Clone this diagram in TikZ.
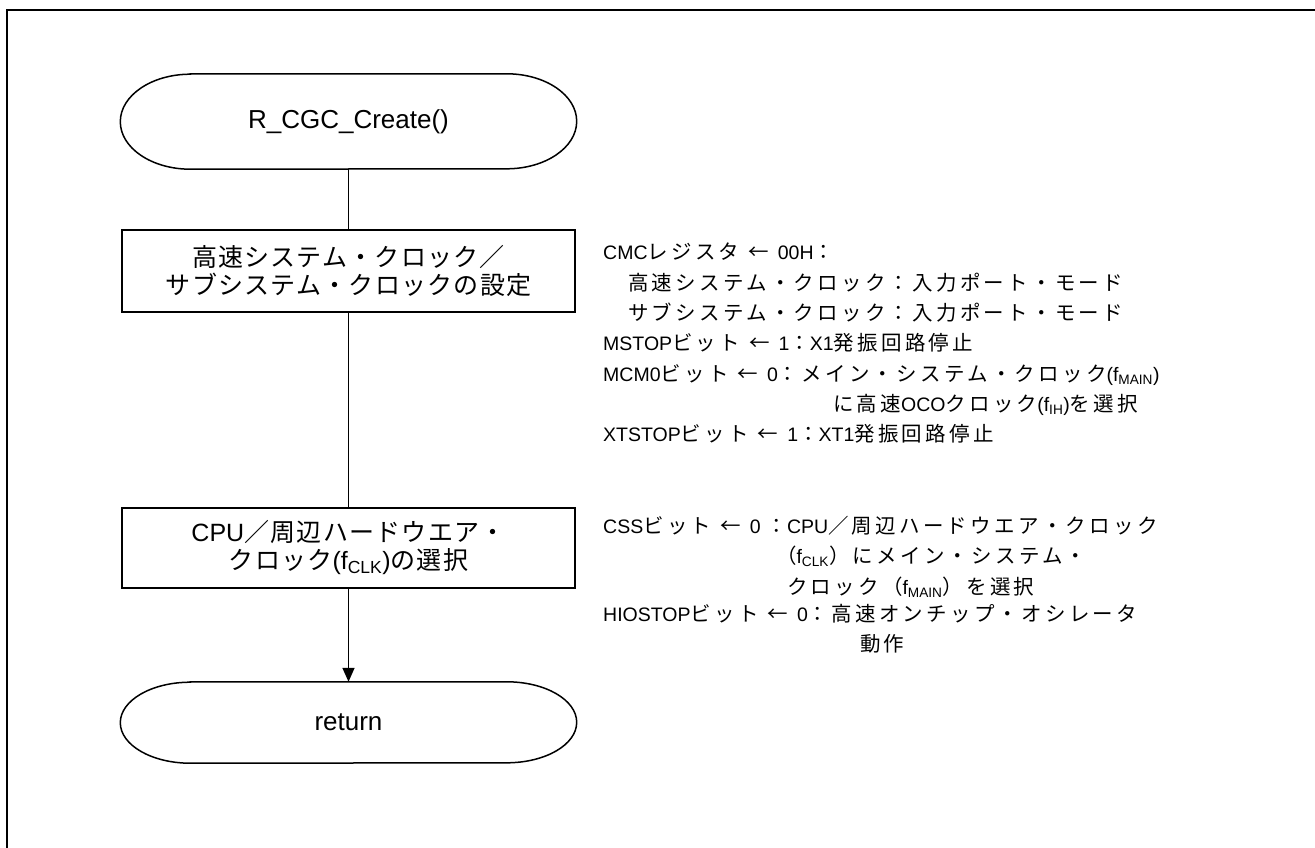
\documentclass[tikz,border=0pt]{standalone}
\usepackage{fontspec}
\setmainfont{Liberation Sans}
\newfontfamily\lafont{Liberation Sans}
\newfontfamily\jpfont[LetterSpace=5]{Noto Sans CJK JP}
\newfontfamily\jpwide[Scale=1.05,LetterSpace=16]{Noto Sans CJK JP}
\usetikzlibrary{arrows.meta}

% Japanese characters switch to the CJK font on their own
\XeTeXinterchartokenstate=1
\newXeTeXintercharclass\jpclass
\newcount\jpc
\newcommand\jprange[2]{\jpc=#1 \loop\XeTeXcharclass\jpc=\jpclass\ifnum\jpc<#2 \advance\jpc by 1 \repeat}
\jprange{"2190}{"2190}
\jprange{"3000}{"30FF}
\jprange{"4E00}{"9FFF}
\jprange{"FF00}{"FFEF}
\newcommand\jpsel{\jpfont}
\XeTeXinterchartoks 0 \jpclass = {\jpsel}
\XeTeXinterchartoks 4095 \jpclass = {\jpsel}
\XeTeXinterchartoks \jpclass 0 = {\lafont}
\XeTeXinterchartoks \jpclass 4095 = {\lafont}
\newcommand\setto{\hspace{9pt}←\hspace{9pt}}

% terminal outline round a node
\newcommand\terminal[2]{\draw[line width=1.5pt] ([xshift=70pt]#1.north west) -- ([xshift=-70pt]#1.north east)
  arc[start angle=90,end angle=-90,x radius=70pt,y radius=#2] -- ([xshift=70pt]#1.south west)
  arc[start angle=270,end angle=90,x radius=70pt,y radius=#2] -- cycle;}

\begin{document}
\begin{tikzpicture}[x=1pt,y=-1pt,
  every node/.style={inner sep=0pt},
  termnode/.style={minimum width=456pt,font=\fontsize{26}{30}\selectfont},
  stepbox/.style={draw,line width=1.5pt,minimum width=453pt,align=center,font=\fontsize{25}{28}\selectfont},
  note/.style={anchor=north west,align=left,font=\let\jpsel\jpwide\fontsize{19.5}{30.3}\selectfont},
  flow/.style={line width=1.5pt}]
\useasboundingbox (0,0) rectangle (1315,848);
% Frame
\draw[line width=2pt] (7,860) -- (7,10) -- (1330,10);

% Flow
\node[termnode,minimum height=95pt] (start) at (348.5,121.5) {R\_CGC\_Create()};
\terminal{start}{47.5pt}
\node[stepbox,minimum height=82pt] (clk) at (348.5,271) {高速システム・クロック／\\サブシステム・クロックの設定};
\node[stepbox,minimum height=80pt] (cpu) at (348.5,548) {CPU／周辺ハードウエア・\\クロック(f\textsubscript{CLK})の選択};
\node[termnode,minimum height=81pt] (ret) at (348.5,722.5) {return};
\terminal{ret}{40.5pt}

\draw[flow] (start) -- (clk);
\draw[flow] (clk) -- (cpu);
\draw[flow,-{Triangle[length=14pt,width=12pt]}] (cpu) -- (ret);

% Register notes
\node[note] (clknote) at (603,243) {CMCレジスタ\setto 00H：\\
\hspace*{25pt}高速システム・クロック：入力ポート・モード\\
\hspace*{25pt}サブシステム・クロック：入力ポート・モード\\
MSTOPビット\setto 1：X1発振回路停止\\
MCM0ビット\setto 0：メイン・システム・クロック(f\textsubscript{MAIN})\\
\hspace*{230pt}に高速OCOクロック(f\textsubscript{IH})を選択\\
XTSTOPビット\setto 1：XT1発振回路停止};
\node[note] (cpunote) at (603,512) {CSSビット\setto 0\hspace{6pt}：\begin{tabular}[t]{@{}l@{}}CPU／周辺ハードウエア・クロック\\
\hspace*{-11pt}（f\textsubscript{CLK}）にメイン・システム・\\
クロック（f\textsubscript{MAIN}）を選択\end{tabular}\\
HIOSTOPビット\setto 0：高速オンチップ・オシレータ\\
\hspace*{257pt}動作};
\end{tikzpicture}
\end{document}
